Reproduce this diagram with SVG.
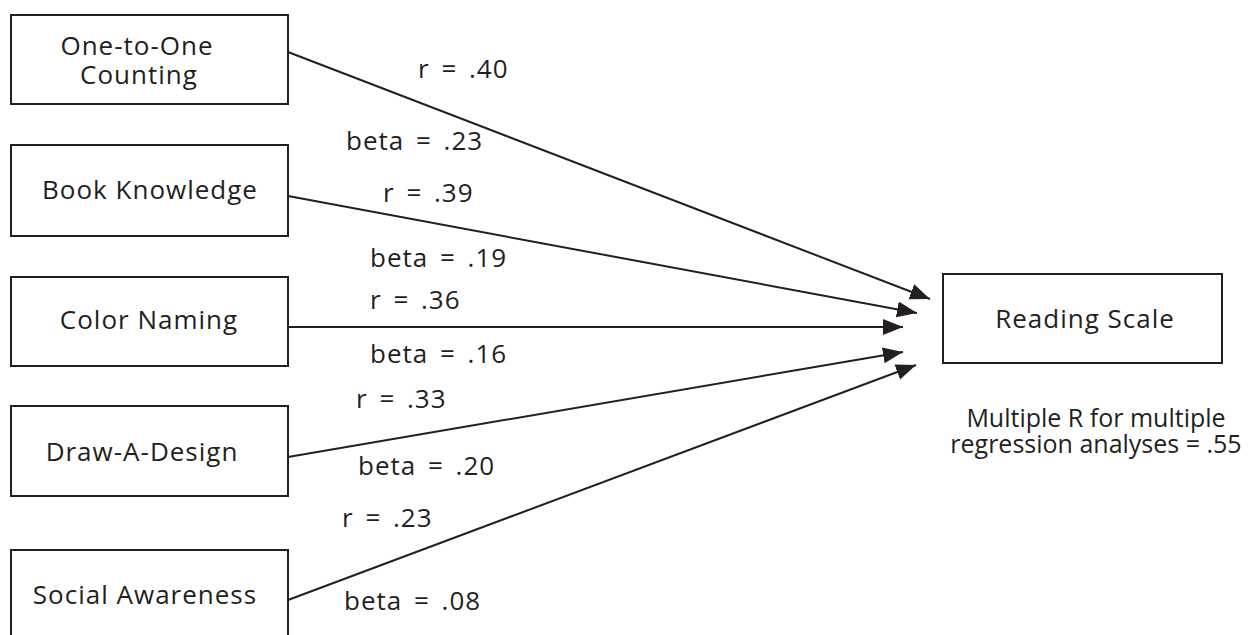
<svg xmlns="http://www.w3.org/2000/svg" width="1260" height="635" viewBox="0 0 1260 635">
<defs>
<style>
text{font-family:"Open Sans","Noto Sans","DejaVu Sans",sans-serif;font-size:26px;letter-spacing:1px;fill:#231f20;}
.box{fill:#fff;stroke:#231f20;stroke-width:2;}
.edge{stroke:#231f20;stroke-width:2;fill:none;marker-end:url(#ah);}
.mid{text-anchor:middle;}
.lbl{word-spacing:4px;}
.note{font-size:25px;letter-spacing:0;}
</style>
<marker id="ah" markerUnits="userSpaceOnUse" markerWidth="22" markerHeight="18" refX="20" refY="8" orient="auto">
<path d="M0,0 L20,8 L0,16 z" fill="#231f20"/>
</marker>
</defs>
<rect width="1260" height="635" fill="#fff"/>
<g id="connectors">
<line class="edge" x1="288" y1="52" x2="930" y2="299"/>
<line class="edge" x1="288" y1="196" x2="917" y2="313"/>
<line class="edge" x1="288" y1="327" x2="903" y2="327"/>
<line class="edge" x1="288" y1="457" x2="903" y2="352"/>
<line class="edge" x1="288" y1="600" x2="916" y2="365"/>
</g>
<g id="labels">
<text class="lbl" x="418" y="78">r = .40</text>
<text class="lbl" x="346" y="150">beta = .23</text>
<text class="lbl" x="383" y="202">r = .39</text>
<text class="lbl" x="370" y="267">beta = .19</text>
<text class="lbl" x="370" y="309">r = .36</text>
<text class="lbl" x="370" y="363">beta = .16</text>
<text class="lbl" x="356" y="408">r = .33</text>
<text class="lbl" x="358" y="475">beta = .20</text>
<text class="lbl" x="342" y="527">r = .23</text>
<text class="lbl" x="344" y="610">beta = .08</text>
</g>
<g id="node-counting">
<rect class="box" x="11" y="15" width="277" height="89"/>
<text class="mid" x="137" y="55">One-to-One<tspan x="139" dy="29">Counting</tspan></text>
</g>
<g id="node-book">
<rect class="box" x="11" y="145" width="277" height="91"/>
<text class="mid" x="150" y="199">Book Knowledge</text>
</g>
<g id="node-color">
<rect class="box" x="11" y="277" width="277" height="89"/>
<text class="mid" x="149" y="329">Color Naming</text>
</g>
<g id="node-draw">
<rect class="box" x="11" y="406" width="277" height="90"/>
<text class="mid" x="142" y="461">Draw-A-Design</text>
</g>
<g id="node-social">
<rect class="box" x="11" y="550" width="277" height="100"/>
<text class="mid" x="145" y="604">Social Awareness</text>
</g>
<g id="node-reading">
<rect class="box" x="943" y="274" width="279" height="89"/>
<text class="mid" x="1085" y="328">Reading Scale</text>
</g>
<g id="note">
<text class="mid note" x="1096" y="427">Multiple R for multiple<tspan x="1096" dy="26">regression analyses = .55</tspan></text>
</g>
</svg>
